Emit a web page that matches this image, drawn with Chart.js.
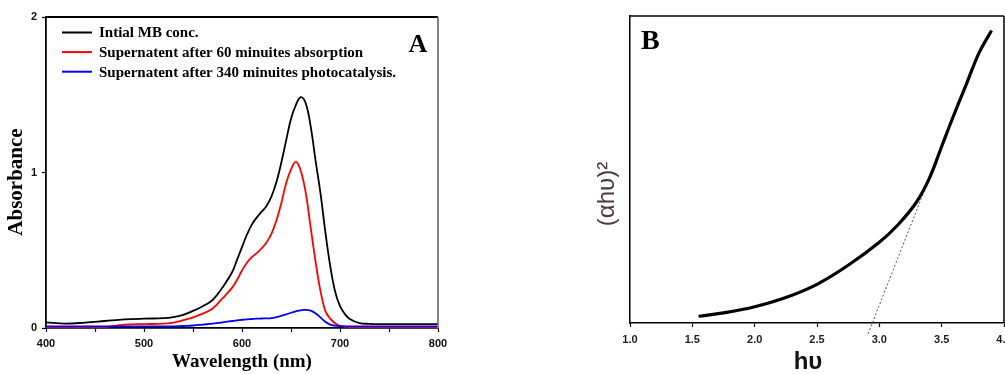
<!DOCTYPE html>
<html>
<head>
<meta charset="utf-8">
<script src="https://cdn.jsdelivr.net/npm/chart.js@4.4.0/dist/chart.umd.min.js"></script>
<style>
  html, body { margin: 0; padding: 0; background: #fff; overflow: hidden; }
  body { width: 1005px; height: 374px; position: relative; }
  #panelA { position: absolute; left: 0; top: 0; }
  #panelB { position: absolute; left: 560px; top: 0; }
</style>
</head>
<body>
<canvas id="panelA" width="450" height="374"></canvas>
<canvas id="panelB" width="460" height="374"></canvas>
<script>
// Panel A - UV-vis spectra
const wavelength = [400,420,440,460,480,500,520,530,540,550,560,570,580,590,595,600,605,610,615,620,625,630,635,640,645,650,655,660,665,670,675,680,685,690,695,700,705,710,720,730,740,760,780,800];
const absInitial = [0.036,0.028,0.035,0.045,0.055,0.060,0.063,0.070,0.085,0.110,0.140,0.180,0.260,0.360,0.440,0.520,0.600,0.665,0.710,0.748,0.785,0.845,0.935,1.060,1.205,1.345,1.435,1.484,1.445,1.300,1.080,0.870,0.620,0.400,0.235,0.140,0.090,0.058,0.031,0.027,0.025,0.025,0.025,0.025];
const absAfter60 = [0.006,0.006,0.006,0.006,0.022,0.025,0.028,0.035,0.050,0.068,0.092,0.125,0.190,0.260,0.310,0.370,0.420,0.455,0.482,0.512,0.550,0.605,0.690,0.800,0.930,1.020,1.068,1.010,0.870,0.650,0.430,0.240,0.110,0.060,0.030,0.013,0.008,0.006,0.006,0.006,0.006,0.006,0.006,0.006];
const absAfter340 = [0.010,0.010,0.010,0.010,0.010,0.010,0.010,0.011,0.013,0.016,0.022,0.028,0.036,0.045,0.049,0.053,0.056,0.058,0.060,0.061,0.062,0.064,0.070,0.078,0.088,0.098,0.107,0.114,0.117,0.112,0.095,0.068,0.040,0.022,0.015,0.012,0.011,0.010,0.010,0.010,0.010,0.010,0.010,0.010];
const seriesNames = ['Intial MB conc.', 'Supernatent after 60 minuites absorption', 'Supernatent after 340 minuites photocatalysis.'];

// Panel B - Tauc plot
const photonEnergy = [1.55,1.75,2.0,2.25,2.5,2.75,3.0,3.15,3.3,3.4,3.5,3.6,3.7,3.8,3.9];
const tauc = [2.2,3.3,5.3,8.3,12.6,18.8,26.3,32.0,39.5,47.0,57.5,68.0,78.0,88.0,95.3];
const tangentEnergy = [2.91, 3.36];
const tangentTauc = [-3.5, 43];

function points(xs, ys) {
    return xs.map((x, i) => ({ x: x, y: ys[i] }));
}

// marcos, letras y titulos que van dentro / al lado del area
const panelExtras = {
    id: 'panelExtras',
    afterDraw(chart, args, o) {
        const ctx = chart.ctx, a = chart.chartArea;
        ctx.save();
        ctx.lineWidth = o.frameWidth;
        ctx.strokeStyle = '#000';
        ctx.beginPath(); ctx.moveTo(a.left, a.top); ctx.lineTo(a.right, a.top); ctx.stroke();
        ctx.strokeStyle = o.rightColor;
        ctx.beginPath(); ctx.moveTo(a.right, a.top); ctx.lineTo(a.right, a.bottom); ctx.stroke();

        ctx.fillStyle = '#000';
        ctx.font = o.letterFont;
        ctx.textAlign = o.letterAlign;
        ctx.textBaseline = 'alphabetic';
        ctx.fillText(o.letter, o.letterX, o.letterY);

        if (o.yTitle) {
            ctx.save();
            ctx.translate(o.yTitle.x, o.yTitle.y);
            ctx.rotate(-Math.PI / 2);
            ctx.font = o.yTitle.font;
            ctx.fillStyle = o.yTitle.color;
            ctx.textAlign = 'center';
            ctx.textBaseline = 'middle';
            ctx.fillText(o.yTitle.text, 0, 0);
            ctx.restore();
        }
        if (o.xTitle) {
            ctx.font = o.xTitle.font;
            ctx.fillStyle = o.xTitle.color;
            ctx.textAlign = 'center';
            ctx.textBaseline = 'alphabetic';
            ctx.fillText(o.xTitle.text, o.xTitle.x, o.xTitle.y);
        }
        if (o.legend) {
            const L = o.legend;
            chart.data.datasets.forEach((ds, i) => {
                const y = L.y + i * L.step;
                ctx.strokeStyle = ds.borderColor;
                ctx.lineWidth = 2;
                ctx.beginPath(); ctx.moveTo(L.x, y); ctx.lineTo(L.x + L.len, y); ctx.stroke();
                ctx.fillStyle = '#000';
                ctx.font = L.font;
                ctx.textAlign = 'left';
                ctx.textBaseline = 'middle';
                ctx.fillText(ds.label, L.x + L.len + 7, y + 1);
            });
        }
        ctx.restore();
    }
};

const tickFont = { family: 'Liberation Sans', size: 11, weight: 'bold' };

new Chart(document.getElementById('panelA').getContext('2d'), {
    type: 'line',
    data: {
        datasets: [
            { label: seriesNames[0], data: points(wavelength, absInitial), borderColor: '#000000', borderWidth: 1.8, order: 3 },
            { label: seriesNames[1], data: points(wavelength, absAfter60), borderColor: '#ff0000', borderWidth: 1.8, order: 2 },
            { label: seriesNames[2], data: points(wavelength, absAfter340), borderColor: '#0000ff', borderWidth: 1.8, order: 1 }
        ]
    },
    options: {
        responsive: false,
        animation: false,
        devicePixelRatio: 1,
        layout: { padding: { top: 17, right: 12, left: 0, bottom: 0 } },
        elements: { point: { radius: 0 }, line: { tension: 0.4 } },
        plugins: {
            legend: { display: false },
            tooltip: { enabled: false },
            panelExtras: {
                frameWidth: 1.8, rightColor: '#777',
                letter: 'A', letterFont: 'bold 26px "Liberation Serif"', letterAlign: 'center', letterX: 418, letterY: 52,
                yTitle: { text: 'Absorbance', x: 17, y: 182, font: 'bold 21px "Liberation Serif"', color: '#000' },
                legend: { x: 62, y: 32.5, step: 19.6, len: 30, font: 'bold 15px "Liberation Serif"' }
            }
        },
        scales: {
            x: {
                type: 'linear', min: 400, max: 800,
                afterFit: s => { s.height = 46; s.paddingRight = 0; },
                ticks: {
                    stepSize: 50, autoSkip: false, maxRotation: 0, padding: 5,
                    font: tickFont, color: '#111',
                    callback: v => (v % 100 === 0 ? v : '')
                },
                grid: { drawOnChartArea: false, drawTicks: true, tickLength: 4, tickColor: '#000', tickWidth: 1.2 },
                border: { display: true, color: '#000', width: 1.8 },
                title: {
                    display: true, text: 'Wavelength (nm)', color: '#000',
                    font: { family: 'Liberation Serif', size: 19, weight: 'bold' },
                    padding: { top: 0, bottom: 1 }
                }
            },
            y: {
                min: 0, max: 2,
                afterFit: s => { s.width = 46; },
                ticks: { stepSize: 1, padding: 5, font: tickFont, color: '#111' },
                grid: { drawOnChartArea: false, drawTicks: true, tickLength: 4, tickColor: '#000', tickWidth: 1.2 },
                border: { display: true, color: '#000', width: 1.8 }
            }
        }
    },
    plugins: [panelExtras]
});

new Chart(document.getElementById('panelB').getContext('2d'), {
    type: 'line',
    data: {
        datasets: [
            { label: 'curve', data: points(photonEnergy, tauc), borderColor: '#000000', borderWidth: 3.2 },
            { label: 'tangent', data: points(tangentEnergy, tangentTauc), borderColor: '#555555', borderWidth: 1, borderDash: [2, 2], clip: false, tension: 0 }
        ]
    },
    options: {
        responsive: false,
        animation: false,
        devicePixelRatio: 1,
        layout: { padding: { top: 16, right: 16, left: 0, bottom: 0 } },
        elements: { point: { radius: 0 }, line: { tension: 0.4 } },
        plugins: {
            legend: { display: false },
            tooltip: { enabled: false },
            panelExtras: {
                frameWidth: 1.5, rightColor: '#000',
                letter: 'B', letterFont: 'bold 28px "Liberation Serif"', letterAlign: 'left', letterX: 81, letterY: 49,
                yTitle: { text: '(αhυ)²', x: 47.5, y: 194, font: '24px "Liberation Sans"', color: '#4a3b3b' },
                xTitle: { text: 'hυ', x: 248, y: 369, font: 'bold 24px "Liberation Sans"', color: '#111' }
            }
        },
        scales: {
            x: {
                type: 'linear', min: 1, max: 4,
                afterFit: s => { s.height = 51; s.paddingRight = 0; },
                ticks: {
                    stepSize: 0.5, autoSkip: false, maxRotation: 0, padding: 6,
                    font: tickFont, color: '#1c1c2e',
                    callback: v => v.toFixed(1)
                },
                grid: { drawOnChartArea: false, drawTicks: true, tickLength: 4, tickColor: '#000', tickWidth: 1.2 },
                border: { display: true, color: '#000', width: 1.5 }
            },
            y: {
                min: 0, max: 100,
                afterFit: s => { s.width = 70; },
                ticks: { display: false },
                grid: { display: false },
                border: { display: true, color: '#000', width: 1.5 }
            }
        }
    },
    plugins: [panelExtras]
});
</script>
</body>
</html>
